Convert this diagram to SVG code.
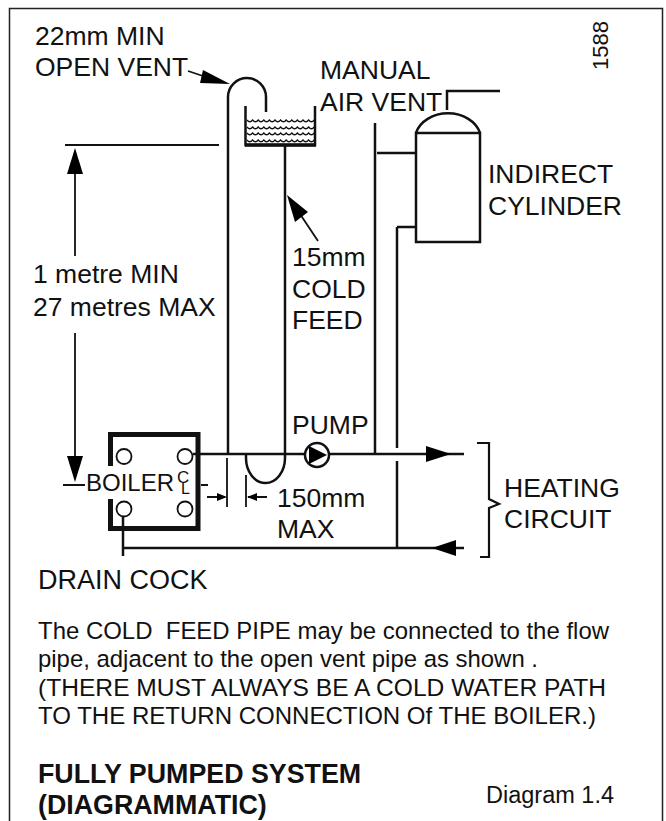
<svg xmlns="http://www.w3.org/2000/svg" width="666" height="821" viewBox="0 0 666 821">
<style>
text{font-family:"Liberation Sans",Arial,sans-serif;font-size:26.500px;fill:#111}
.s{font-size:24.300px}
.b{font-weight:bold;font-size:26.800px}
.p{fill:none;stroke:#111;stroke-width:2.500}
.t{fill:none;stroke:#111;stroke-width:1.800}
.h{fill:#000;stroke:none}
.w{fill:none;stroke:#111;stroke-width:1.300}
</style>
<defs><path id="wave" d="M247 0q2.800 3.500 5.600 0q2.800 3.500 5.600 0q2.800 3.500 5.600 0q2.800 3.500 5.600 0q2.800 3.500 5.600 0q2.800 3.500 5.600 0q2.800 3.500 5.600 0q2.800 3.500 5.600 0q2.800 3.500 5.600 0q2.800 3.500 5.600 0q2.800 3.500 5.600 0q2.800 3.500 5.600 0" class="w"/></defs>
<rect width="666" height="821" fill="#fff"/>
<path d="M9.500 821V8.500H662.500V821" fill="none" stroke="#222" stroke-width="1.500"/>
<g id="connectors">
<path class="p" d="M228 454V97A19 19 0 0 1 266 97V112"/>
<path class="p" d="M285 146V454"/>
<path class="p" d="M246 454V458A19.500 25 0 0 0 285 458V454"/>
<path class="p" d="M193 454H464"/>
<path class="p" d="M375 123V454"/>
<path class="p" d="M397 227V448M397 461V548"/>
<path class="p" d="M377 153H416M397 227H416"/>
<path class="p" d="M447 110V91H500"/>
<path class="p" d="M123 516V556M123 548H464"/>
<path class="h" d="M426 446L451 454L426 462Z"/>
<path class="h" d="M432 548L456 540V556Z"/>
<path class="t" d="M65 145H219M75 165V256M75 333V460M63 485H85M201 485H208M227 458V507M246 475V507M207 497H225M248 497H267"/>
<path class="h" d="M75 148L83 174H67Z"/>
<path class="h" d="M75 482L67 456H83Z"/>
<path class="h" d="M227 497L217 493V501Z"/>
<path class="h" d="M247 497L257 493V501Z"/>
<path class="t" d="M188 71L215 80M318 241L298 211"/>
<path class="h" d="M230 84L200 83L203 70Z"/>
<path class="h" d="M287 195L308 212L295 222Z"/>
<path d="M477 443H489V499L499 504L489 508V557H480" fill="none" stroke="#111" stroke-width="2.200"/>
</g>
<g id="tank">
<path d="M245.500 106V145H315V106" fill="none" stroke="#111" stroke-width="2.500"/>
<path d="M245 145H316" fill="none" stroke="#111" stroke-width="3.500"/>
<use href="#wave" y="120"/><use href="#wave" y="127"/><use href="#wave" y="133"/><use href="#wave" y="140"/>
</g>
<g id="cylinder">
<path class="p" d="M416 133H480V242H416Z"/>
<path class="p" d="M416 133A33 26 0 0 1 480 133"/>
</g>
<g id="boiler">
<path d="M110.500 466V434.500H198V528.500H110.500V499" fill="none" stroke="#111" stroke-width="5"/>
<circle class="t" cx="124" cy="456.500" r="7.500"/>
<circle class="t" cx="185" cy="456.500" r="7.500"/>
<circle class="t" cx="124" cy="509" r="7.500"/>
<circle class="t" cx="185" cy="509" r="7.500"/>
<text x="86" y="491" style="font-size:24px">BOILER</text>
<text x="177" y="483" style="font-size:17px">C</text>
<text x="181" y="494" style="font-size:16px">L</text>
</g>
<g id="pump">
<circle cx="317" cy="455" r="12" fill="#fff" stroke="#111" stroke-width="2.500"/>
<path class="h" d="M309 446L327 455L309 464Z"/>
<text x="292" y="434">PUMP</text>
</g>
<g id="labels">
<text x="35" y="45">22mm MIN</text>
<text x="35" y="76">OPEN VENT</text>
<text x="320" y="79">MANUAL</text>
<text x="320" y="111">AIR VENT</text>
<text x="488" y="183">INDIRECT</text>
<text x="488" y="215">CYLINDER</text>
<text x="292" y="266">15mm</text>
<text x="292" y="298">COLD</text>
<text x="292" y="329">FEED</text>
<text x="33" y="283">1 metre MIN</text>
<text x="33" y="316">27 metres MAX</text>
<text x="277" y="507">150mm</text>
<text x="277" y="538">MAX</text>
<text x="504" y="497">HEATING</text>
<text x="504" y="528">CIRCUIT</text>
<text x="38" y="589" style="font-size:27px">DRAIN COCK</text>
<text transform="translate(608 70) rotate(-90)" style="font-size:22px">1588</text>
<text x="38" y="639" class="s" xml:space="preserve" textLength="571" lengthAdjust="spacingAndGlyphs">The COLD  FEED PIPE may be connected to the flow</text>
<text x="38" y="667" class="s" textLength="500" lengthAdjust="spacingAndGlyphs">pipe, adjacent to the open vent pipe as shown .</text>
<text x="38" y="696" class="s" textLength="568" lengthAdjust="spacingAndGlyphs">(THERE MUST ALWAYS BE A COLD WATER PATH</text>
<text x="38" y="724" class="s" textLength="558" lengthAdjust="spacingAndGlyphs">TO THE RETURN CONNECTION Of THE BOILER.)</text>
<text x="38" y="783" class="b">FULLY PUMPED SYSTEM</text>
<text x="38" y="814" class="b">(DIAGRAMMATIC)</text>
<text x="486" y="803" style="font-size:23.500px">Diagram 1.4</text>
</g>
</svg>
